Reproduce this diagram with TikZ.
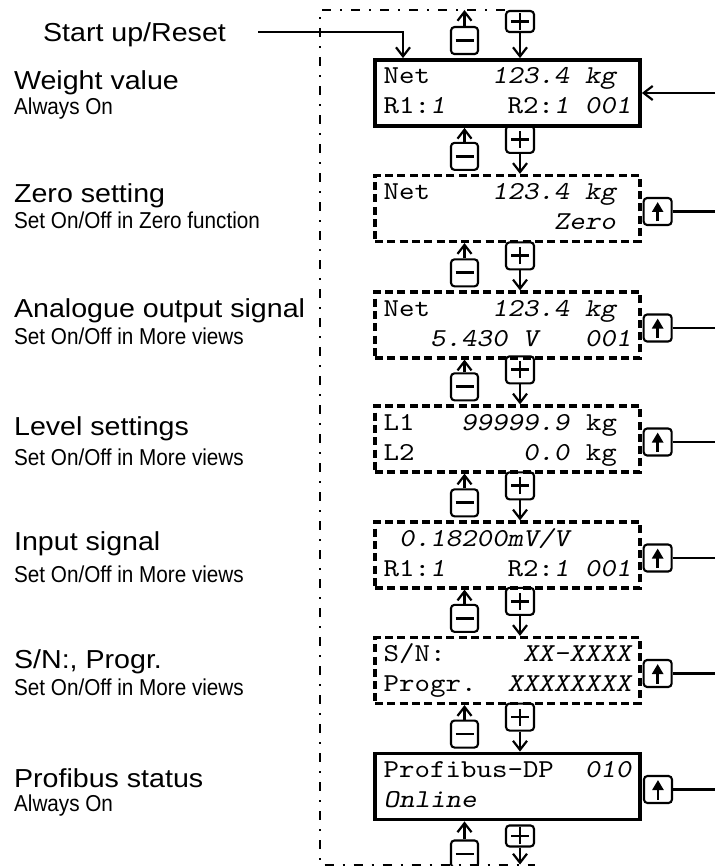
\documentclass[tikz,border=0pt]{standalone}
\usepackage{fontspec}
\setmainfont{Liberation Sans}
\newfontfamily\lcdfont{lmmono10-regular.otf}[ItalicFont=lmmonoslant10-regular.otf,FakeStretch=1.143]
\newfontfamily\widefont[FakeStretch=1.1]{Liberation Sans}
\newfontfamily\narrowfont[FakeStretch=0.9]{Liberation Sans}
\usetikzlibrary{arrows.meta,positioning}

% one display line is 16 characters
\newcommand{\lcdrow}[1]{\makebox[9.6em][l]{#1}}
\newcommand{\lcdrows}[2]{\raisebox{-3pt}{\begin{tabular}{@{}l@{}}\lcdrow{#1}\\\lcdrow{#2}\end{tabular}}}

\begin{document}
\begin{tikzpicture}[x=1pt,y=-1pt,line width=2.2pt,
	>={Straight Barb[length=9pt,width=14pt]},
	lcd/.style={rectangle,draw,minimum width=265pt,minimum height=66pt,inner sep=0pt,
		font=\lcdfont\fontsize{25.8}{30}\selectfont},
	lcdon/.style={lcd,line width=3.8pt},
	lcdopt/.style={lcd,line width=3.2pt,dash pattern=on 8pt off 4.3pt},
	key/.style={rectangle,draw,rounded corners=3.5pt,line width=2.1pt,
		minimum width=27pt,minimum height=27pt,inner sep=0pt},
	minuskey/.style={key,path picture={
		\draw[line width=2.8pt] ([xshift=-9pt]path picture bounding box.center)
			-- ([xshift=9pt]path picture bounding box.center);}},
	pluskey/.style={key,minimum width=28pt,path picture={
		\draw[line width=2.8pt] ([xshift=-9pt]path picture bounding box.center)
			-- ([xshift=9pt]path picture bounding box.center);
		\draw[line width=2.8pt] ([yshift=-8.5pt]path picture bounding box.center)
			-- ([yshift=8.5pt]path picture bounding box.center);}},
	upkey/.style={key,minimum width=28pt,path picture={
		\draw[line width=2.4pt,-{Triangle[length=10pt,width=11pt]}]
			([yshift=-10pt]path picture bounding box.center)
			-- ([yshift=9.5pt]path picture bounding box.center);}},
	loopline/.style={line width=2pt,dash pattern=on 9pt off 9pt on 2pt off 9pt}]
\useasboundingbox (0,0) rectangle (715,866);

% texts on the left
\begin{scope}[every node/.style={inner sep=0pt,anchor=base west}]
\node[font=\widefont\fontsize{26}{30}\selectfont] (start) at (42,42) {Start up/Reset};
\node[font=\widefont\fontsize{26}{30}\selectfont] (wlab) at (13,90) {Weight value};
\node[font=\narrowfont\fontsize{23}{27}\selectfont] (wsub) at (13,115) {Always On};
\node[font=\widefont\fontsize{26}{30}\selectfont] (zlab) at (13,203) {Zero setting};
\node[font=\narrowfont\fontsize{23}{27}\selectfont] (zsub) at (13,229) {Set On/Off in Zero function};
\node[font=\widefont\fontsize{26}{30}\selectfont] (alab) at (13,317) {Analogue output signal};
\node[font=\narrowfont\fontsize{23}{27}\selectfont] (asub) at (13,344) {Set On/Off in More views};
\node[font=\widefont\fontsize{26}{30}\selectfont] (llab) at (13,435) {Level settings};
\node[font=\narrowfont\fontsize{23}{27}\selectfont] (lsub) at (13,465) {Set On/Off in More views};
\node[font=\widefont\fontsize{26}{30}\selectfont] (ilab) at (13,550) {Input signal};
\node[font=\narrowfont\fontsize{23}{27}\selectfont] (isub) at (13,582) {Set On/Off in More views};
\node[font=\widefont\fontsize{26}{30}\selectfont] (slab) at (13,668) {S/N:, Progr.};
\node[font=\narrowfont\fontsize{23}{27}\selectfont] (ssub) at (13,695) {Set On/Off in More views};
\node[font=\widefont\fontsize{26}{30}\selectfont] (plab) at (13,787) {Profibus status};
\node[font=\narrowfont\fontsize{23}{27}\selectfont] (psub) at (13,811) {Always On};
\end{scope}

% displays
\node[lcdon] (d1) at (507.5,93) {\lcdrows{Net~~~~\textit{123.4~kg}}{R1:\textit{1}~~~~R2:\textit{1~001}}};
\node[lcdopt] (d2) at (507.5,208.5) {\lcdrows{Net~~~~\textit{123.4~kg}}{~~~~~~~~~~~\textit{Zero}}};
\node[lcdopt] (d3) at (507.5,325) {\lcdrows{Net~~~~\textit{123.4~kg}}{~~~\textit{5.430~V~~~001}}};
\node[lcdopt] (d4) at (507.5,439) {\lcdrows{L1~~~\textit{99999.9}~kg}{L2~~~~~~~\textit{0.0}~kg}};
\node[lcdopt] (d5) at (507.5,555) {\lcdrows{~\textit{0.18200mV/V}}{R1:\textit{1}~~~~R2:\textit{1~001}}};
\node[lcdopt] (d6) at (507.5,670.5) {\lcdrows{S/N:~~~~~\textit{XX-XXXX}}{Progr.~~\textit{XXXXXXXX}}};
\node[lcdon] (d7) at (507.5,786.5) {\lcdrows{Profibus-DP~~\textit{010}}{\textit{Online}}};

% keys between the displays
\node[minuskey,above=3pt of d1.north,xshift=-43pt] (m1) {};
\node[pluskey,minimum height=21pt,above=25pt of d1.north,xshift=12.5pt] (p1) {};
\node[minuskey,above=3pt of d2.north,xshift=-43pt] (m2) {};
\node[pluskey,above=20pt of d2.north,xshift=12.5pt] (p2) {};
\node[minuskey,above=3pt of d3.north,xshift=-43pt] (m3) {};
\node[pluskey,above=20pt of d3.north,xshift=12.5pt] (p3) {};
\node[minuskey,above=3pt of d4.north,xshift=-43pt] (m4) {};
\node[pluskey,above=20pt of d4.north,xshift=12.5pt] (p4) {};
\node[minuskey,above=3pt of d5.north,xshift=-43pt] (m5) {};
\node[pluskey,above=20pt of d5.north,xshift=12.5pt] (p5) {};
\node[minuskey,above=3pt of d6.north,xshift=-43pt] (m6) {};
\node[pluskey,above=20pt of d6.north,xshift=12.5pt] (p6) {};
\node[minuskey,above=3pt of d7.north,xshift=-43pt] (m7) {};
\node[pluskey,above=20pt of d7.north,xshift=12.5pt] (p7) {};
\node[minuskey,below=18pt of d7.south,xshift=-43pt] (m8) {};
\node[pluskey,minimum height=21pt,below=3pt of d7.south,xshift=12.5pt] (p8) {};

% up keys on the right
\node[upkey,right=1pt of d2,yshift=-3pt] (u2) {};
\node[upkey,right=1pt of d3,yshift=-3pt] (u3) {};
\node[upkey,right=1pt of d4,yshift=-3pt] (u4) {};
\node[upkey,right=1pt of d5,yshift=-3pt] (u5) {};
\node[upkey,right=1pt of d6,yshift=-3pt] (u6) {};
\node[upkey,right=1pt of d7,yshift=-3pt] (u7) {};

\coordinate (edge) at (715,0);
\coordinate (loopBL) at (320,864.5);

% wrap round from first to last display
\draw[loopline] (p1.north west) -| (loopBL) -- (loopBL -| p8.east);
\draw[->] (m1.north) -- (m1.north |- p1.north);
\draw[->] (p8.south) -- (p8.south |- loopBL);
\draw[->] (m8.north) -- (m8.north |- d7.south);

\draw[->] ([shift={(31pt,10pt)}]start.base east) -| ([xshift=-104.5pt]d1.north);
\draw[->] (d1.east -| edge) -- (d1.east);

\draw[->] (p1.south) -- (p1.south |- d1.north);
\draw[->] (m2.north) -- (m2.north |- d1.south);
\draw[->] (p2.south) -- (p2.south |- d2.north);
\draw[->] (m3.north) -- (m3.north |- d2.south);
\draw[->] (p3.south) -- (p3.south |- d3.north);
\draw[->] (m4.north) -- (m4.north |- d3.south);
\draw[->] (p4.south) -- (p4.south |- d4.north);
\draw[->] (m5.north) -- (m5.north |- d4.south);
\draw[->] (p5.south) -- (p5.south |- d5.north);
\draw[->] (m6.north) -- (m6.north |- d5.south);
\draw[->] (p6.south) -- (p6.south |- d6.north);
\draw[->] (m7.north) -- (m7.north |- d6.south);
\draw[->] (p7.south) -- (p7.south |- d7.north);

\draw (u2.east) -- (u2.east -| edge);
\draw (u3.east) -- (u3.east -| edge);
\draw (u4.east) -- (u4.east -| edge);
\draw (u5.east) -- (u5.east -| edge);
\draw (u6.east) -- (u6.east -| edge);
\draw (u7.east) -- (u7.east -| edge);
\end{tikzpicture}
\end{document}
